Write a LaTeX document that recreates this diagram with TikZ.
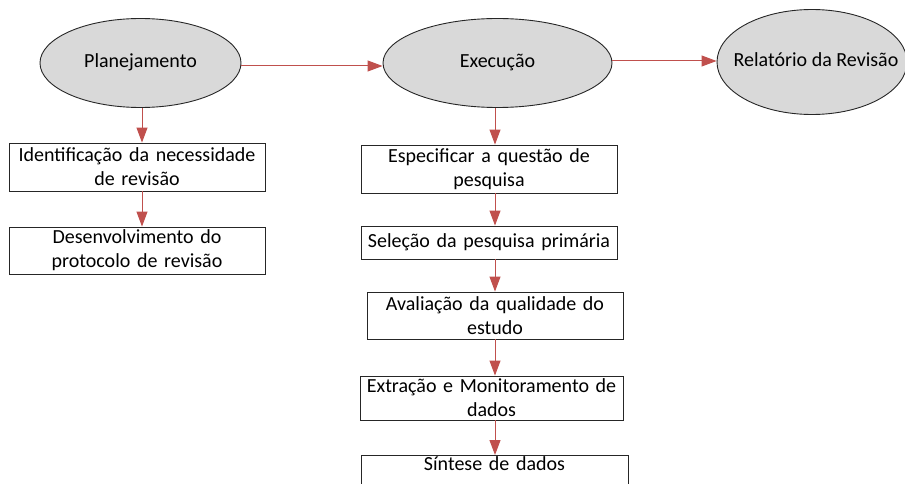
\documentclass[tikz,border=0pt]{standalone}
\usepackage{fontspec}
\setmainfont{Carlito}
\usetikzlibrary{shapes.geometric,arrows.meta}
\definecolor{ellfill}{HTML}{D9D9D9}
\definecolor{arrred}{HTML}{C0504D}
\tikzset{
  phase/.style={ellipse, draw=black!85, line width=0.9pt, fill=ellfill, inner sep=0pt},
  phasetext/.style={font=\fontsize{20}{24}\selectfont, text height=14pt, text depth=4pt, inner sep=0pt},
  stepbox/.style={rectangle, draw=black!85, line width=0.9pt, fill=white, inner sep=0pt, align=center, font=\fontsize{20}{24}\selectfont},
  arr/.style={draw=arrred, line width=1pt, -{Triangle[length=15pt,width=11pt]}}
}
\begin{document}
\begin{tikzpicture}[x=1pt,y=-1pt]
\useasboundingbox (0,0) rectangle (905,484);
\node[phase, minimum width=201pt, minimum height=89pt, label={[phasetext]center:Planejamento}] (plan) at (140.5,63) {};
\node[phase, minimum width=229pt, minimum height=89pt, label={[phasetext]center:Execução}] (exec) at (497.5,63) {};
\node[phase, minimum width=190pt, minimum height=105pt, label={[phasetext, xshift=4pt]center:Relatório da Revisão}] (rel) at (812,62) {};
\coordinate (xl) at (142,0);
\coordinate (xr) at (495,0);
\coordinate (ya) at (0,66);
\coordinate (yb) at (0,61);
\node[stepbox, minimum width=256pt, minimum height=48pt, text width=254pt] (ident) at (137,167) {Identificação da necessidade\\de revisão};
\node[stepbox, minimum width=256pt, minimum height=47pt, text width=254pt] (desen) at (137,250.5) {Desenvolvimento do\\protocolo de revisão};
\node[stepbox, minimum width=256pt, minimum height=48pt, text width=254pt] (espec) at (489,169) {Especificar a questão de\\pesquisa};
\node[stepbox, minimum width=256pt, minimum height=33pt, text width=254pt] (selec) at (489,242.5) {Seleção da pesquisa primária};
\node[stepbox, minimum width=256pt, minimum height=47pt, text width=254pt] (aval) at (495,315.5) {Avaliação da qualidade do\\estudo};
\node[stepbox, minimum width=263pt, minimum height=44pt, text width=261pt] (extr) at (491.5,398) {Extração e Monitoramento de\\dados};
\node[stepbox, minimum width=267pt, minimum height=48pt, text width=264pt, anchor=north] (sint) at (494.5,455) {Síntese de dados\\\strut};
\draw[arr] (plan.east |- ya) -- (exec.west |- ya);
\draw[arr] (exec.east |- yb) -- (rel.west |- yb);
\draw[arr] (plan.south -| xl) -- (ident.north -| xl);
\draw[arr] (ident.south -| xl) -- (desen.north -| xl);
\draw[arr] (exec.south -| xr) -- (espec.north -| xr);
\draw[arr] (espec.south -| xr) -- (selec.north -| xr);
\draw[arr] (selec.south -| xr) -- (aval.north -| xr);
\draw[arr] (aval.south -| xr) -- (extr.north -| xr);
\draw[arr] (extr.south -| xr) -- (sint.north -| xr);
\end{tikzpicture}
\end{document}
